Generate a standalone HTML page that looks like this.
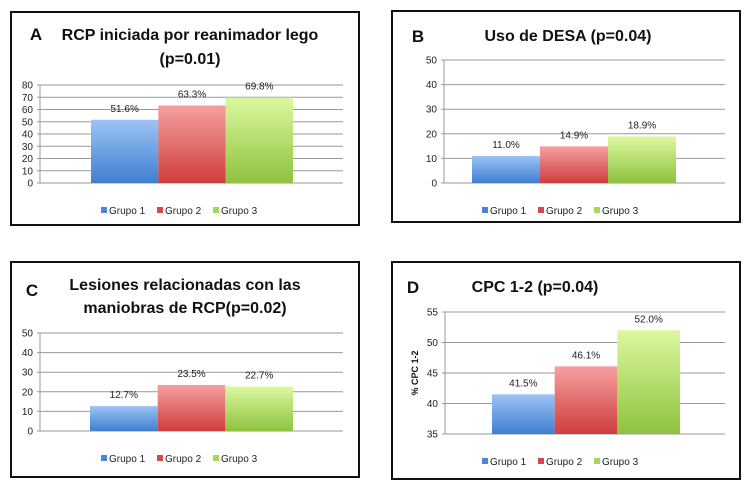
<!DOCTYPE html>
<html><head><meta charset="utf-8"><style>
body{margin:0;background:#fff;width:750px;height:490px;overflow:hidden}
svg{font-family:"Liberation Sans",sans-serif}
</style></head><body>
<svg id="chart" width="750" height="490" xmlns="http://www.w3.org/2000/svg">
<defs>
<linearGradient id="g1" x1="0" y1="0" x2="0" y2="1"><stop offset="0" stop-color="#9dc3f5"/><stop offset="1" stop-color="#3f7fd0"/></linearGradient>
<linearGradient id="g2" x1="0" y1="0" x2="0" y2="1"><stop offset="0" stop-color="#f5a0a0"/><stop offset="1" stop-color="#cf3d3d"/></linearGradient>
<linearGradient id="g3" x1="0" y1="0" x2="0" y2="1"><stop offset="0" stop-color="#dcf8a0"/><stop offset="1" stop-color="#8fc23e"/></linearGradient>
</defs>
</svg>
<script>
const groups = ["Grupo 1","Grupo 2","Grupo 3"];
const valuesA = [51.6, 63.3, 69.8];
const valuesB = [11.0, 14.9, 18.9];
const valuesC = [12.7, 23.5, 22.7];
const valuesD = [41.5, 46.1, 52.0];
const ticksA = [0,10,20,30,40,50,60,70,80];
const ticksB = [0,10,20,30,40,50];
const ticksC = [0,10,20,30,40,50];
const ticksD = [35,40,45,50,55];
const titlesA = ["RCP iniciada por reanimador lego","(p=0.01)"];
const titlesB = ["Uso de DESA (p=0.04)"];
const titlesC = ["Lesiones relacionadas con las","maniobras de RCP(p=0.02)"];
const titlesD = ["CPC 1-2 (p=0.04)"];
const fills = ["url(#g1)","url(#g2)","url(#g3)"];
const legendColors = ["#4a86d6","#d84848","#a6d75a"];
const svg = document.getElementById('chart');
const NS = "http://www.w3.org/2000/svg";
function mk(tag, attrs, parent){const e=document.createElementNS(NS,tag);for(const k in attrs)e.setAttribute(k,attrs[k]);(parent||svg).appendChild(e);return e;}

const panels = [
 {id:'a',box:[11,12,348,213],ax:40,right:343,top:85,bot:183,bars:[91,293],vals:valuesA,ticks:ticksA,titles:titlesA,ty:[40,64],tx:190,letter:['A',36],ly:40,leg:211},
 {id:'b',box:[392,11,348,211],ax:444,right:725,top:60,bot:183,bars:[472,676],vals:valuesB,ticks:ticksB,titles:titlesB,ty:[41],tx:568,letter:['B',418],ly:42,leg:211},
 {id:'c',box:[11,262,348,215],ax:40,right:343,top:333,bot:431,bars:[90,293],vals:valuesC,ticks:ticksC,titles:titlesC,ty:[290,313],tx:185,letter:['C',32],ly:296,leg:459},
 {id:'d',box:[392,262,348,217],ax:445,right:725,top:312,bot:434,bars:[492,680],vals:valuesD,ticks:ticksD,titles:titlesD,ty:[292],tx:535,letter:['D',413],ly:293,leg:462,ylabel:'% CPC 1-2'}
];
panels.forEach(p=>{
  const g=mk('g',{});
  
  
  const r=mk('rect',{x:p.box[0],y:p.box[1],width:p.box[2],height:p.box[3],fill:'#fff',stroke:'#111','stroke-width':2},g);
  
  
  p.titles.forEach((t,i)=>{
    const e=mk('text',{x:p.tx,y:p.ty[i],'text-anchor':'middle','font-size':16,'font-weight':'bold',fill:'#111'},g);
    e.textContent=t;
    
    
  });
  if(p.letter){const e=mk('text',{x:p.letter[1],y:p.ly,'text-anchor':'middle','font-size':17,'font-weight':'bold',fill:'#111'},g);e.textContent=p.letter[0];
    
    }
  const lo=p.ticks[0],hi=p.ticks[p.ticks.length-1];
  const y=v=>p.bot-(v-lo)/(hi-lo)*(p.bot-p.top);
  p.ticks.forEach(t=>{
    const l=mk('line',{x1:p.ax-3,x2:p.right,y1:y(t),y2:y(t),stroke:'#999','stroke-width':1},g);
    
    
    const e=mk('text',{x:p.ax-7,y:y(t)+3.5,'text-anchor':'end','font-size':10,fill:'#222'},g);
    e.textContent=t;
    
    
  });
  const axl=mk('line',{x1:p.ax,x2:p.ax,y1:p.top,y2:p.bot,stroke:'#999'},g);
  
  
  const bw=(p.bars[1]-p.bars[0])/p.vals.length;
  p.vals.forEach((v,i)=>{
    const x=p.bars[0]+i*bw;
    const b=mk('rect',{x:x,y:y(v),width:bw,height:p.bot-y(v),fill:fills[i]},g);
    
    
    const e=mk('text',{x:x+bw/2,y:y(v)-8,'text-anchor':'middle','font-size':10,fill:'#222'},g);
    e.textContent=v.toFixed(1)+'%';
    
    
  });
  if(p.ylabel){const e=mk('text',{x:0,y:0,transform:`translate(${p.ax-27},${(p.top+p.bot)/2}) rotate(-90)`,'text-anchor':'middle','font-size':9,'font-weight':'bold',fill:'#111'},g);e.textContent=p.ylabel;
    
    }
  const cx=(p.box[0]+p.box[0]+p.box[2])/2;
  const lx=[cx-84,cx-28,cx+28];
  groups.forEach((gname,i)=>{
    const s=mk('rect',{x:lx[i],y:p.leg-4,width:6,height:6,fill:legendColors[i]},g);
    
    
    const e=mk('text',{x:lx[i]+8,y:p.leg+3,'font-size':10,fill:'#222'},g);
    e.textContent=gname;
    
    
  });
});
</script>
</body></html>
